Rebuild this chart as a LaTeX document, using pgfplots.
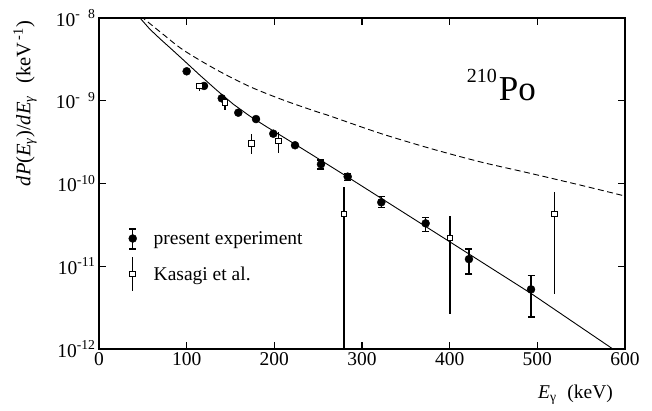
\documentclass[border=0pt]{standalone}
\usepackage{fontspec}
\setmainfont{Liberation Serif}
\usepackage{pgfplots}
\usepackage{pgfplotstable}
\pgfplotsset{compat=1.18}

\pgfplotstableread{
x      y        ep       em
100.0  2.27e-9  0        0
119.8  1.51e-9  0        0
140.0  1.07e-9  0        0
158.9  7.18e-10 0        0
179.1  6.01e-10 0        0
198.8  4.00e-10 0        0
223.6  2.90e-10 0        0
253.2  1.71e-10 0.21e-10 0.22e-10
283.7  1.21e-10 0.12e-10 0.13e-10
322.0  5.93e-11 0.99e-11 0.83e-11
372.6  3.30e-11 0.56e-11 0.68e-11
422.0  1.22e-11 0.39e-11 0.415e-11
492.8  5.26e-12 2.43e-12 2.81e-12
}\present

\pgfplotstableread{
x      y        ep       em
114.4  1.51e-9  0.12e-9  0.19e-9
143.7  9.46e-10 1.74e-10 1.73e-10
174.2  3.03e-10 0.93e-10 0.76e-10
204.5  3.26e-10 0.96e-10 0.90e-10
279.5  4.27e-11 4.72e-11 4.26e-11
400.4  2.19e-11 1.86e-11 1.925e-11
519.3  4.27e-11 3.56e-11 3.81e-11
}\kasagi

\begin{document}
\begin{tikzpicture}
\useasboundingbox (-99pt,-61pt) rectangle (553pt,349pt);
\begin{axis}[
  scale only axis, width=526pt, height=331pt,
  xmin=0, xmax=600, ymode=log, ymin=1e-12, ymax=1e-8,
  axis line style={line width=1.4pt},
  tick align=inside, major tick length=7pt,
  every tick/.style={black, line width=1.4pt},
  yminorticks=false,
  xtick={0,100,200,300,400,500,600},
  xticklabels={0,100,200,300,400,500,600},
  ytick={1e-12,1e-11,1e-10,1e-9,1e-8},
  yticklabels={10\textsuperscript{-12},10\textsuperscript{-11},10\textsuperscript{-10},10\textsuperscript{-\hspace{0.6em}9},10\textsuperscript{-\hspace{0.6em}8}},
  ticklabel style={font=\fontsize{19.5}{22}\selectfont},
  xlabel={\textit{E}\textsubscript{γ}\hspace{0.55em}(keV)},
  xlabel style={at={(axis description cs:0.906,-0.139)}, anchor=center, font=\fontsize{19.5}{22}\selectfont},
  ylabel={\textit{dP}(\textit{E}\textsubscript{\textit{γ}})/\textit{dE}\textsubscript{\textit{γ}}\hspace{0.6em}(keV\textsuperscript{\,-1})},
  ylabel style={at={(axis description cs:-0.1407,0.7417)}, anchor=center, font=\fontsize{20.5}{23}\selectfont},
  legend style={draw=none, fill=none, at={(axis description cs:0.0546,0.2795)}, anchor=west,
    inner sep=0pt, outer sep=0pt, row sep=0pt, font=\fontsize{19.5}{22}\selectfont, nodes={inner sep=1pt}},
  legend cell align=left,
]
% theory curves
\addplot[black, line width=0.9pt, forget plot] coordinates {
(44.0,1.09e-8) (46.8,1.0e-8) (58,7.33e-9) (70,5.56e-9) (81,4.37e-9) (96,3.13e-9) (115,2.04e-9)
(134,1.35e-9) (153,9.12e-10) (172,6.53e-10) (191,4.86e-10) (210,3.66e-10)
(229,2.75e-10) (250,2.0e-10) (283,1.21e-10) (400,1.98e-11) (493,4.68e-12)
(585,1.02e-12) (590,0.92e-12)
};
\addplot[black, line width=0.9pt, smooth, dash pattern=on 6pt off 3.5pt, forget plot] coordinates {
(47.5,1.06e-8) (50.2,1.0e-8) (69.6,6.82e-9) (96.2,4.10e-9) (134.3,2.36e-9) (172.2,1.48e-9)
(210.2,1.02e-9) (248.3,7.38e-10) (263.5,6.55e-10) (320.5,4.05e-10) (377.6,2.66e-10)
(434.6,1.83e-10) (491.6,1.33e-10) (548.6,9.59e-11) (600,7.06e-11)
};
% present experiment
\addplot[black, only marks, mark=*, mark size=4pt,
  error bars/.cd, y dir=both, y explicit,
  error bar style={line width=1.4pt},
  error mark options={rotate=90, mark size=3.5pt, line width=1.4pt},
  /pgfplots/legend image code/.code={
    \path[draw=none, fill=none] (-5pt,-17.5pt) rectangle (20pt,17.5pt);
    \draw[line width=1.4pt] (0pt,-10pt)--(0pt,10pt) (-3.5pt,-10pt)--(3.5pt,-10pt) (-3.5pt,10pt)--(3.5pt,10pt);
    \fill (0pt,0.5pt) circle (4pt);
  }]
  table[x=x, y=y, y error plus=ep, y error minus=em] {\present};
% Kasagi et al.
\addplot[black, only marks, mark=square*, mark size=2.8pt, mark options={fill=white, draw=black, line width=1pt},
  error bars/.cd, y dir=both, y explicit, error mark=none,
  error bar style={line width=1.4pt},
  /pgfplots/legend image code/.code={
    \path[draw=none, fill=none] (-5pt,-17.5pt) rectangle (20pt,17.5pt);
    \draw[line width=1.4pt] (0pt,-16.7pt)--(0pt,16.7pt);
    \draw[fill=white, line width=1pt] (-2.8pt,-2.8pt) rectangle (2.8pt,2.8pt);
  }]
  table[x=x, y=y, y error plus=ep, y error minus=em] {\kasagi};
\legend{present experiment, Kasagi et al.}
\node[anchor=base west, inner sep=0pt] at (axis cs:419.4,1.02e-9)
  {{\fontsize{20}{24}\selectfont\raisebox{18pt}{210}}\kern2pt{\fontsize{35}{40}\selectfont Po}};
\end{axis}
\end{tikzpicture}
\end{document}
